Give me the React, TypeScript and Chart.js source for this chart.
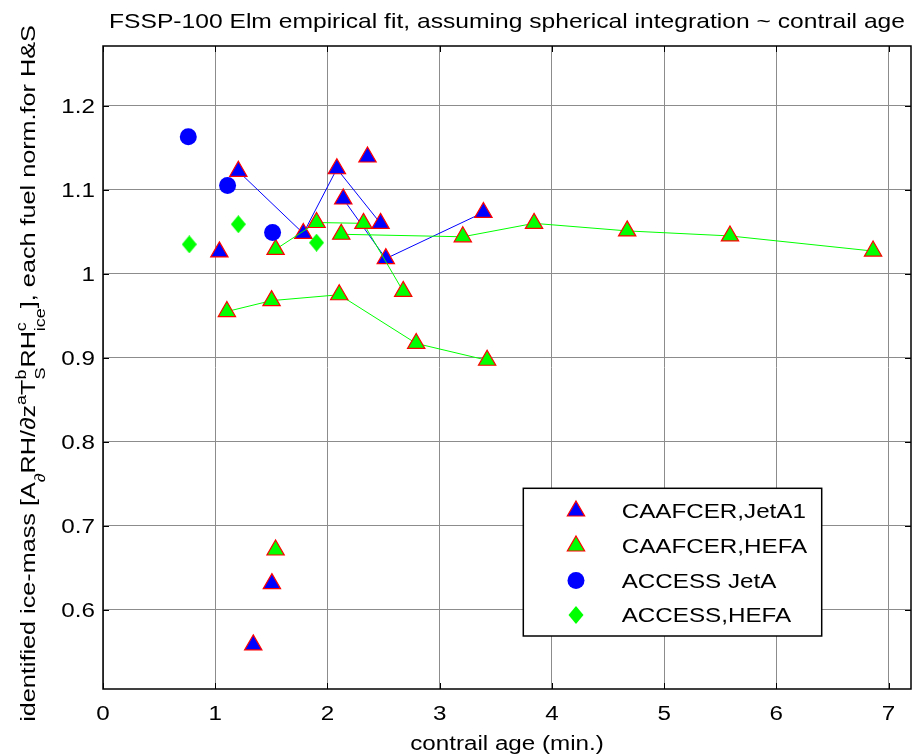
import React, { useEffect, useRef } from 'react';
import { Chart, registerables } from 'chart.js';

Chart.register(...registerables);

// ---------- data ----------
const xTicks = [0, 1, 2, 3, 4, 5, 6, 7];
const yTicks = [0.6, 0.7, 0.8, 0.9, 1.0, 1.1, 1.2];
const xRange = [0, 7.2];
const yRange = [0.5055, 1.2712];

const titleText = 'FSSP-100 Elm empirical fit, assuming spherical integration ~ contrail age';
const xLabel = 'contrail age (min.)';
const legendLabels = ['CAAFCER,JetA1', 'CAAFCER,HEFA', 'ACCESS JetA', 'ACCESS,HEFA'];

// CAAFCER, JetA1 (blue triangles)
const jetA1LineAX = [1.206, 1.785, 2.084, 2.473];
const jetA1LineAY = [1.122, 1.048, 1.125, 1.060];
const jetA1LineBX = [2.141, 2.520, 3.390];
const jetA1LineBY = [1.089, 1.018, 1.073];
const jetA1SoloX = [1.037, 2.357, 1.505, 1.339];
const jetA1SoloY = [1.026, 1.139, 0.631, 0.558];

// CAAFCER, HEFA (green triangles)
const hefaLineCX = [1.104, 1.502, 2.105, 2.791, 3.423];
const hefaLineCY = [0.955, 0.968, 0.975, 0.917, 0.897];
const hefaLineDX = [1.538, 1.903, 2.321, 2.675];
const hefaLineDY = [1.029, 1.061, 1.060, 0.979];
const hefaLineEX = [2.123, 3.206, 3.841, 4.671, 5.587, 6.862];
const hefaLineEY = [1.047, 1.044, 1.060, 1.051, 1.045, 1.027];
const hefaSoloX = [1.538];
const hefaSoloY = [0.671];

// ACCESS JetA (blue circles)
const accessJetAX = [0.760, 1.110, 1.511];
const accessJetAY = [1.163, 1.105, 1.049];

// ACCESS, HEFA (green diamonds)
const accessHefaX = [0.769, 1.206, 1.903];
const accessHefaY = [1.035, 1.059, 1.037];

// ---------- styles ----------
const BLUE = '#0000ff';
const GREEN = '#00ff00';
const RED = '#ff0000';
const GRID = '#8c8c8c';
const FONT_PX = 20;
const SX = 1.21;
const FONT = `${FONT_PX}px "Liberation Sans", Arial, sans-serif`;
const TITLE_FONT = `20.2px "Liberation Sans", Arial, sans-serif`;
const YL_FONT = `21px "Liberation Sans", Arial, sans-serif`;
const SMALL_FONT = `15px "Liberation Sans", Arial, sans-serif`;
const TRI_R = 10;
const CIRC_R = 8.5;

const pts = (xs: number[], ys: number[]) => xs.map((x, i) => ({ x, y: ys[i] }));

function makeDiamond(w: number, h: number, color: string) {
  const c = document.createElement('canvas');
  c.width = w;
  c.height = h;
  const g = c.getContext('2d')!;
  g.fillStyle = color;
  g.beginPath();
  g.moveTo(w / 2, 0);
  g.lineTo(w, h / 2);
  g.lineTo(w / 2, h);
  g.lineTo(0, h / 2);
  g.closePath();
  g.fill();
  return c;
}

function stretchText(
  ctx: CanvasRenderingContext2D,
  text: string,
  x: number,
  y: number,
  align: CanvasTextAlign,
  font = FONT,
  sx = SX
) {
  ctx.save();
  ctx.font = font;
  ctx.translate(x, y);
  ctx.scale(sx, 1);
  ctx.textAlign = align;
  ctx.textBaseline = 'alphabetic';
  ctx.fillStyle = '#000';
  ctx.fillText(text, 0, 0);
  ctx.restore();
}

type Seg = { t?: string; sup?: string; sub?: string };
const yLabelSegs: Seg[] = [
  { t: 'identified ice-mass [A' },
  { sub: '\u2202' },
  { t: 'RH/\u2202z' },
  { sup: 'a' },
  { t: 'T' },
  { sup: 'b', sub: 'S' },
  { t: 'RH' },
  { sup: 'c', sub: 'ice' },
  { t: '], each fuel norm.for H&S' },
];

function drawTriangle(ctx: CanvasRenderingContext2D, x: number, y: number, r: number) {
  ctx.beginPath();
  let rad = 0;
  for (let i = 0; i < 3; i++) {
    const px = x + Math.sin(rad) * r;
    const py = y - Math.cos(rad) * r;
    if (i === 0) ctx.moveTo(px, py);
    else ctx.lineTo(px, py);
    rad += (2 * Math.PI) / 3;
  }
  ctx.closePath();
}

const decorPlugin = {
  id: 'decor',
  afterDraw(chart: any) {
    const ctx: CanvasRenderingContext2D = chart.ctx;
    const ca = chart.chartArea;
    const xs = chart.scales.x;
    const ys = chart.scales.y;
    ctx.save();

    // inward ticks
    ctx.strokeStyle = '#000';
    ctx.lineWidth = 1;
    ctx.beginPath();
    xTicks.forEach((v) => {
      const px = Math.round(xs.getPixelForValue(v)) + 0.5;
      ctx.moveTo(px, ca.bottom);
      ctx.lineTo(px, ca.bottom - 6);
      ctx.moveTo(px, ca.top);
      ctx.lineTo(px, ca.top + 6);
    });
    yTicks.forEach((v) => {
      const py = Math.round(ys.getPixelForValue(v)) + 0.5;
      ctx.moveTo(ca.left, py);
      ctx.lineTo(ca.left + 6, py);
      ctx.moveTo(ca.right, py);
      ctx.lineTo(ca.right - 6, py);
    });
    ctx.stroke();

    // frame
    ctx.lineWidth = 1.5;
    ctx.strokeRect(ca.left, ca.top, ca.right - ca.left, ca.bottom - ca.top);

    // tick labels
    xTicks.forEach((v) => {
      stretchText(ctx, String(v), xs.getPixelForValue(v), 720, 'center');
    });
    yTicks.forEach((v) => {
      const lbl = Math.abs(v - 1) < 1e-9 ? '1' : v.toFixed(1);
      stretchText(ctx, lbl, 95, ys.getPixelForValue(v) + 7.2, 'right');
    });

    // title & x label
    const cx = (ca.left + ca.right) / 2;
    stretchText(ctx, titleText, cx, 28, 'center', TITLE_FONT, 1.22);
    stretchText(ctx, xLabel, cx, 750, 'center');

    // y label (rotated, with sub/superscripts)
    ctx.save();
    ctx.translate(35, (ca.top + ca.bottom) / 2 + 6);
    ctx.rotate(-Math.PI / 2);
    ctx.scale(1.2, 1);
    ctx.fillStyle = '#000';
    ctx.textBaseline = 'alphabetic';
    ctx.textAlign = 'left';
    let total = 0;
    const widths = yLabelSegs.map((s) => {
      let w = 0;
      if (s.t) {
        ctx.font = YL_FONT;
        w = ctx.measureText(s.t).width;
      } else {
        ctx.font = SMALL_FONT;
        w = Math.max(s.sup ? ctx.measureText(s.sup).width : 0, s.sub ? ctx.measureText(s.sub).width : 0);
      }
      total += w;
      return w;
    });
    let x = -total / 2;
    yLabelSegs.forEach((s, i) => {
      if (s.t) {
        ctx.font = YL_FONT;
        ctx.fillText(s.t, x, 0);
      } else {
        ctx.font = SMALL_FONT;
        if (s.sup) ctx.fillText(s.sup, x, -9);
        if (s.sub) ctx.fillText(s.sub, x, 10);
      }
      x += widths[i];
    });
    ctx.restore();

    // legend
    const lx = 523.3, ly = 488.3, lw = 298.4, lh = 147.7;
    ctx.fillStyle = '#fff';
    ctx.fillRect(lx, ly, lw, lh);
    ctx.strokeStyle = '#000';
    ctx.lineWidth = 1.5;
    ctx.strokeRect(lx, ly, lw, lh);
    const rows = [511, 546, 580.5, 615];
    const mx = 576;
    [BLUE, GREEN].forEach((fill, i) => {
      drawTriangle(ctx, mx, rows[i], TRI_R);
      ctx.fillStyle = fill;
      ctx.fill();
      ctx.strokeStyle = RED;
      ctx.lineWidth = 1.2;
      ctx.stroke();
    });
    ctx.beginPath();
    ctx.arc(mx, rows[2], CIRC_R, 0, Math.PI * 2);
    ctx.fillStyle = BLUE;
    ctx.fill();
    ctx.beginPath();
    ctx.moveTo(mx, rows[3] - 9);
    ctx.lineTo(mx + 7.5, rows[3]);
    ctx.lineTo(mx, rows[3] + 9);
    ctx.lineTo(mx - 7.5, rows[3]);
    ctx.closePath();
    ctx.fillStyle = GREEN;
    ctx.fill();
    legendLabels.forEach((l, i) => stretchText(ctx, l, 621.7, rows[i] + 7.2, 'left'));

    ctx.restore();
  },
};

export default function App() {
  const ref = useRef<HTMLCanvasElement | null>(null);

  useEffect(() => {
    if (!ref.current) return;
    const diamond = makeDiamond(15, 18, GREEN);

    const triSet = (data: any[], fill: string, showLine: boolean, order: number) => ({
      data,
      showLine,
      borderColor: fill,
      borderWidth: 1,
      pointStyle: 'triangle',
      pointRadius: TRI_R,
      pointHoverRadius: TRI_R,
      pointBackgroundColor: fill,
      pointBorderColor: RED,
      pointBorderWidth: 1.2,
      fill: false,
      tension: 0,
      order,
    });

    const chart = new Chart(ref.current, {
      type: 'scatter',
      data: {
        datasets: [
          triSet(pts(jetA1LineAX, jetA1LineAY), BLUE, true, 4),
          triSet(pts(jetA1LineBX, jetA1LineBY), BLUE, true, 4),
          triSet(pts(jetA1SoloX, jetA1SoloY), BLUE, false, 4),
          triSet(pts(hefaLineCX, hefaLineCY), GREEN, true, 3),
          triSet(pts(hefaLineDX, hefaLineDY), GREEN, true, 3),
          triSet(pts(hefaLineEX, hefaLineEY), GREEN, true, 3),
          triSet(pts(hefaSoloX, hefaSoloY), GREEN, false, 3),
          {
            data: pts(accessJetAX, accessJetAY),
            showLine: false,
            pointStyle: 'circle',
            pointRadius: CIRC_R,
            pointHoverRadius: CIRC_R,
            pointBackgroundColor: BLUE,
            pointBorderColor: BLUE,
            pointBorderWidth: 0,
            order: 2,
          },
          {
            data: pts(accessHefaX, accessHefaY),
            showLine: false,
            pointStyle: diamond as any,
            pointRadius: 9,
            pointHoverRadius: 9,
            pointBackgroundColor: GREEN,
            pointBorderColor: GREEN,
            pointBorderWidth: 0,
            order: 1,
          },
        ] as any,
      },
      options: {
        animation: false,
        responsive: false,
        events: [],
        layout: { autoPadding: false, padding: { top: 46, right: 1, left: 0, bottom: 0 } },
        plugins: {
          legend: { display: false },
          title: { display: false },
          tooltip: { enabled: false },
        },
        scales: {
          x: {
            type: 'linear',
            min: xRange[0],
            max: xRange[1],
            afterBuildTicks: (s: any) => {
              s.ticks = xTicks.map((v) => ({ value: v }));
            },
            afterFit: (s: any) => {
              s.height = 67;
            },
            ticks: { display: false },
            grid: { color: GRID, lineWidth: 1, drawTicks: false },
            border: { display: false },
          },
          y: {
            type: 'linear',
            min: yRange[0],
            max: yRange[1],
            afterBuildTicks: (s: any) => {
              s.ticks = yTicks.map((v) => ({ value: v }));
            },
            afterFit: (s: any) => {
              s.width = 103;
            },
            ticks: { display: false },
            grid: { color: GRID, lineWidth: 1, drawTicks: false },
            border: { display: false },
          },
        },
      } as any,
      plugins: [decorPlugin],
    });
    return () => chart.destroy();
  }, []);

  return (
    <div style={{ position: 'absolute', left: 0, top: 0, width: 912, height: 756, background: '#fff' }}>
      <canvas ref={ref} width={912} height={756} />
    </div>
  );
}
